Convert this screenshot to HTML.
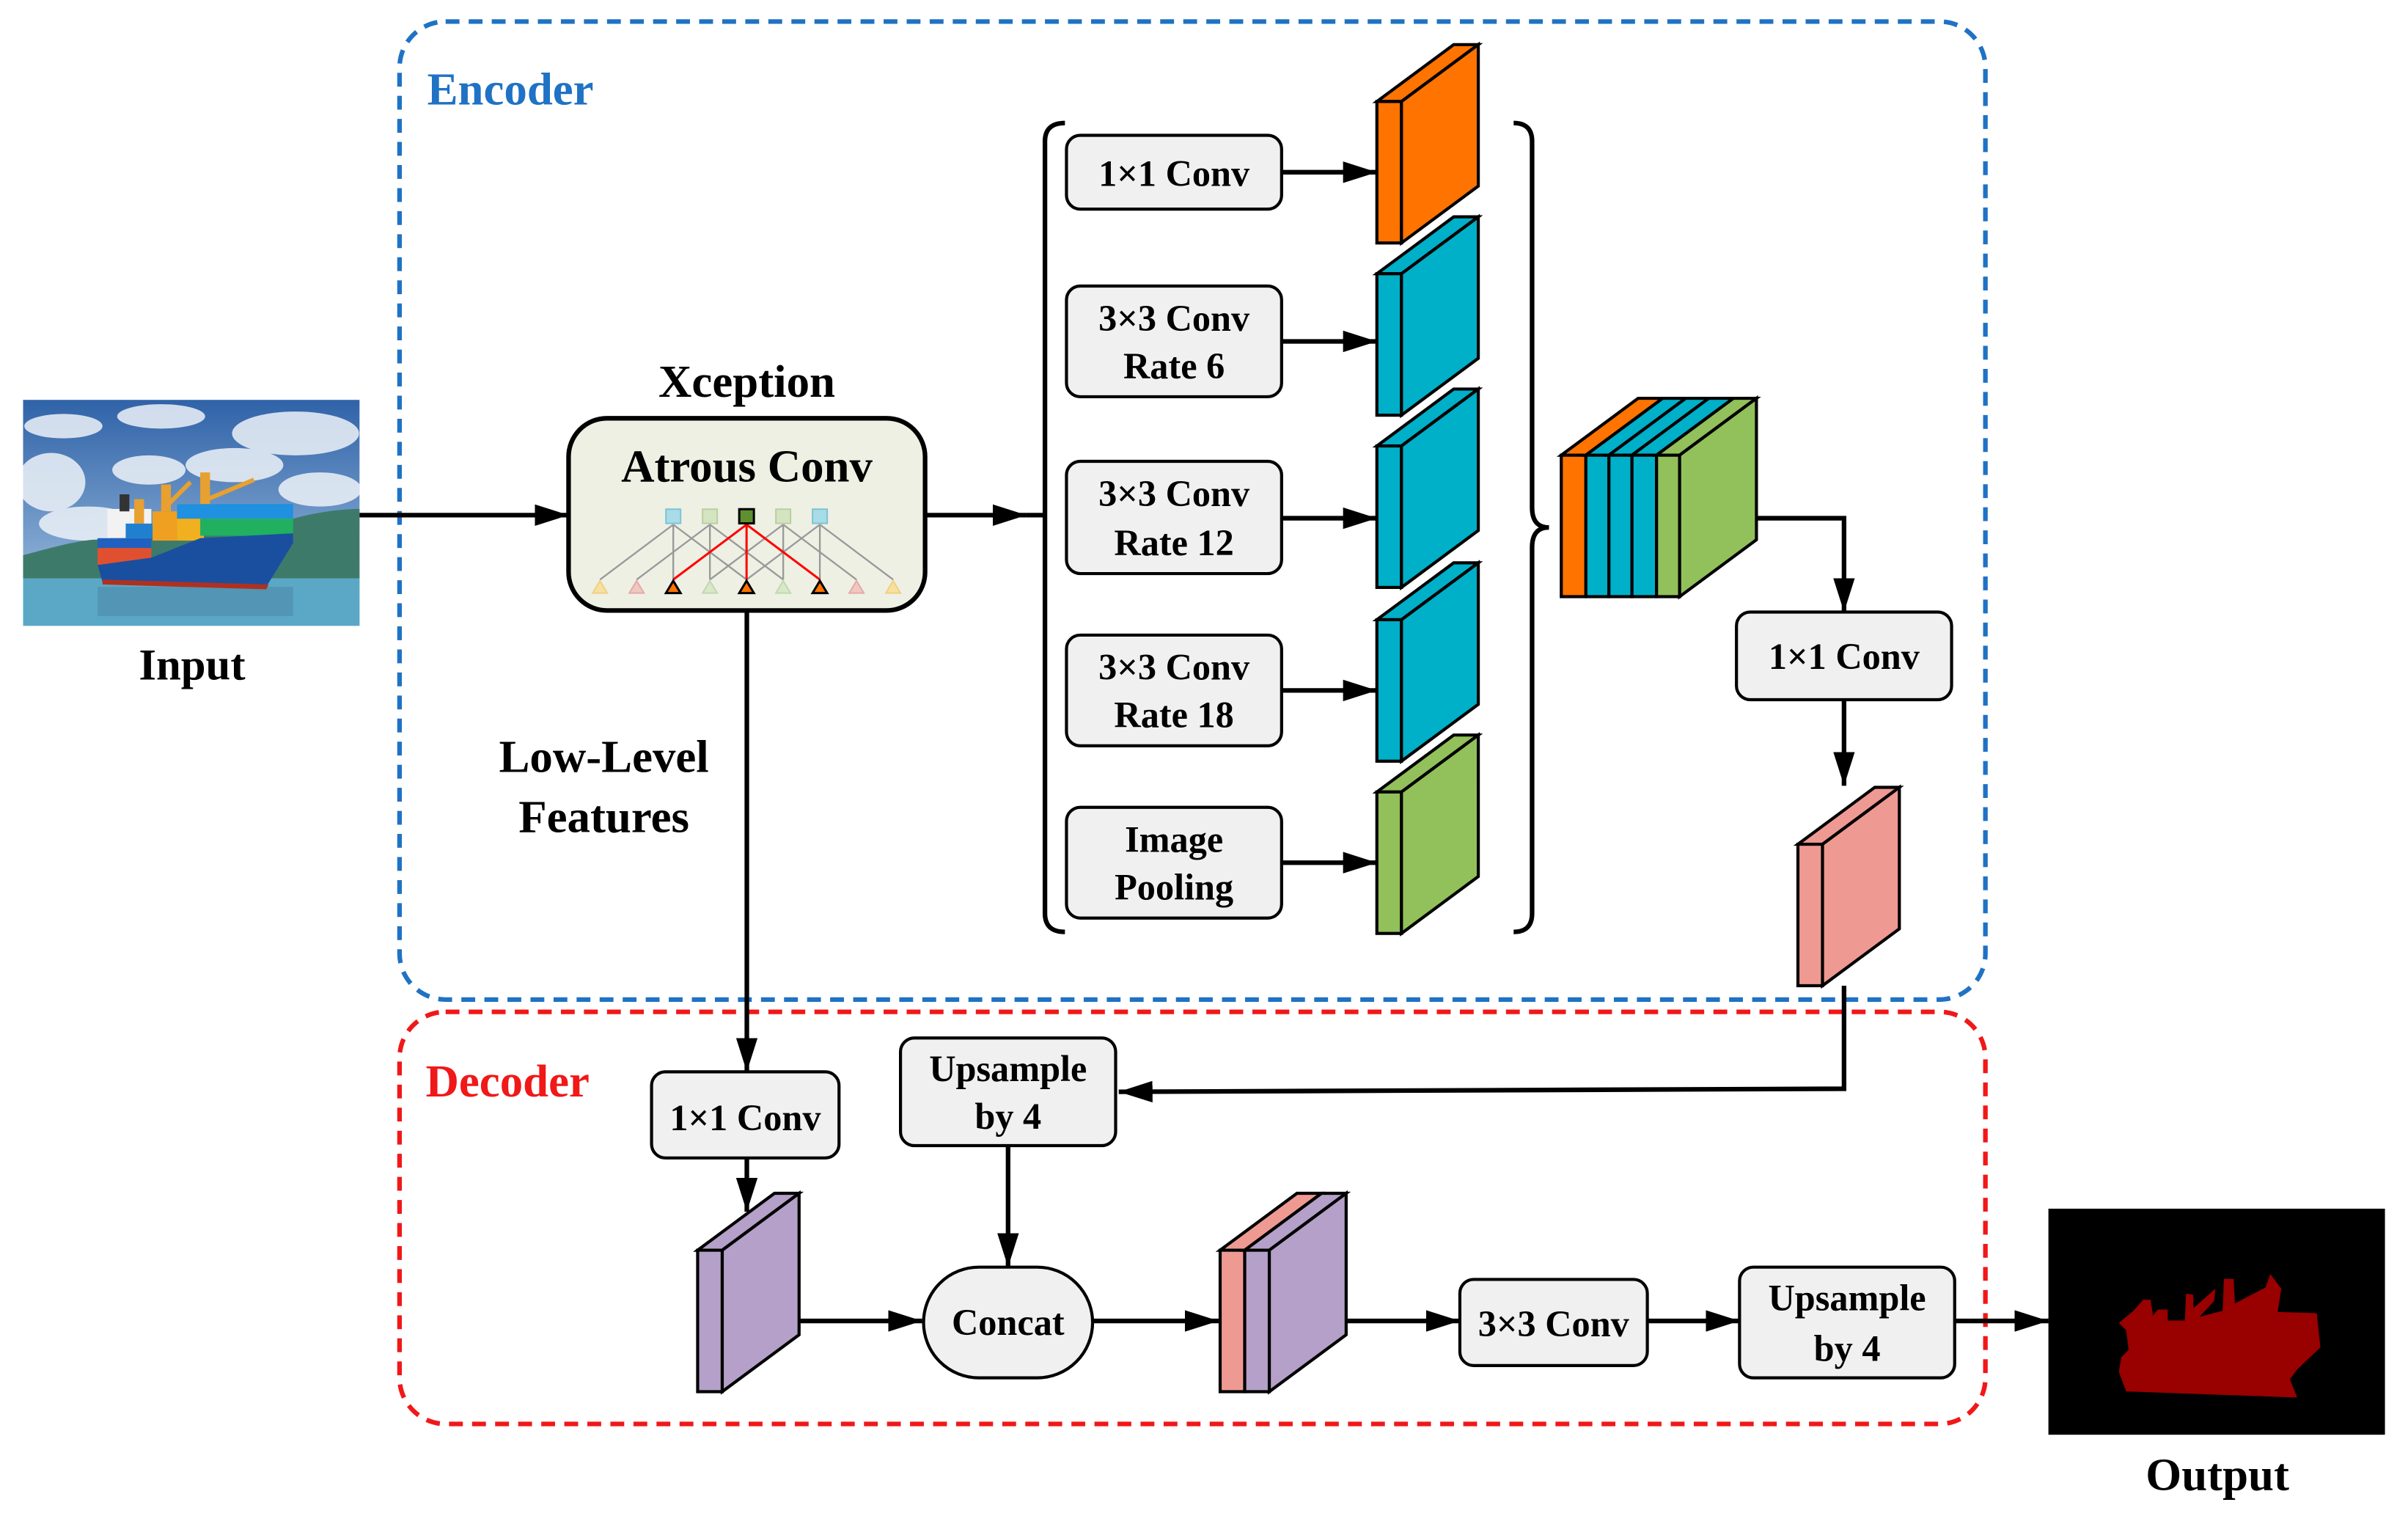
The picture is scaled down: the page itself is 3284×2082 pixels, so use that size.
<!DOCTYPE html>
<html><head><meta charset="utf-8"><style>html,body{margin:0;padding:0;background:#fff}svg{display:block}text{font-family:"Liberation Serif","Times New Roman",serif;font-weight:bold}</style></head>
<body>
<svg width="3284" height="2082" viewBox="0 0 1567 993" preserveAspectRatio="none" xmlns="http://www.w3.org/2000/svg">
<defs>
<marker id="ah" viewBox="0 0 10 10" refX="10" refY="5" markerWidth="22" markerHeight="14" markerUnits="userSpaceOnUse" orient="auto" preserveAspectRatio="none"><path d="M0,0 L10,5 L0,10 z"/></marker>
<linearGradient id="sky" x1="0" y1="0" x2="0" y2="1"><stop offset="0" stop-color="#2f62a8"/><stop offset="1" stop-color="#a9c8e4"/></linearGradient>
</defs>
<g fill="none" stroke-width="3" stroke-dasharray="9,6">
<rect x="260" y="14" width="1032" height="636" rx="30" stroke="#1f72c4"/>
<rect x="260" y="658" width="1032" height="268" rx="30" stroke="#f01818"/>
</g>
<text x="278" y="68" font-size="30" fill="#1f72c4">Encoder</text>
<text x="277" y="713" font-size="30" fill="#f01818">Decoder</text>

<svg x="15" y="260" width="219" height="147" viewBox="35 12 1377 928" preserveAspectRatio="none">
<rect x="35" y="12" width="1377" height="928" fill="url(#sky)"/>
<g fill="#eef3f8" opacity="0.85">
<ellipse cx="200" cy="120" rx="160" ry="50"/><ellipse cx="600" cy="80" rx="180" ry="50"/><ellipse cx="1150" cy="150" rx="260" ry="90"/>
<ellipse cx="550" cy="300" rx="150" ry="60"/><ellipse cx="900" cy="280" rx="200" ry="70"/><ellipse cx="150" cy="350" rx="140" ry="120"/>
<ellipse cx="1250" cy="380" rx="170" ry="70"/><ellipse cx="300" cy="520" rx="200" ry="70"/></g>
<path d="M35,650 C150,620 250,590 340,585 L1140,500 C1250,470 1350,460 1412,460 L1412,745 L35,745 z" fill="#3e7a6a"/>
<rect x="35" y="745" width="1377" height="195" fill="#5aa8c6"/>
<rect x="340" y="780" width="800" height="120" fill="#4c88a8" opacity="0.6"/>
<rect x="380" y="460" width="180" height="120" fill="#f2f2f2"/>
<rect x="430" y="400" width="40" height="70" fill="#333"/>
<rect x="490" y="420" width="40" height="100" fill="#e8a030"/>
<rect x="600" y="360" width="40" height="110" fill="#e8a030"/><rect x="760" y="310" width="40" height="130" fill="#e8a030"/>
<path d="M620,450 L720,350 M790,420 L980,340" stroke="#e8a030" stroke-width="18"/>
<rect x="340" y="620" width="220" height="70" fill="#e05030"/>
<rect x="340" y="580" width="220" height="40" fill="#2060c0"/>
<rect x="455" y="520" width="110" height="60" fill="#2080d0"/>
<rect x="565" y="470" width="100" height="120" fill="#f0a020"/>
<rect x="665" y="440" width="110" height="150" fill="#f0b020"/>
<rect x="665" y="440" width="475" height="60" fill="#2090e0"/>
<rect x="760" y="500" width="380" height="70" fill="#20b060"/>
<path d="M340,690 L560,660 L760,580 L1140,560 L1140,600 L1030,780 L360,760 z" fill="#1a4fa0"/>
<path d="M360,750 L1040,770 L1030,790 L360,770 z" fill="#b03020"/>
</svg>
<text x="125" y="442" font-size="29" text-anchor="middle">Input</text>
<line x1="234" y1="335" x2="370" y2="335" stroke="#000" stroke-width="3" marker-end="url(#ah)"/>

<text x="486" y="258" font-size="30" text-anchor="middle">Xception</text>
<rect x="370" y="272" width="232" height="125" rx="25" fill="#eef0e4" stroke="#000" stroke-width="3"/>
<text x="486" y="313" font-size="30" text-anchor="middle">Atrous Conv</text>
<g transform="translate(362.6,267.2) scale(0.159)">
<g stroke="#999" stroke-width="7" fill="none">
<path d="M175,690 L475,465 M475,690 L475,465 M775,690 L475,465 M325,690 L625,465 M625,690 L625,465 M925,690 L625,465 M625,690 L925,465 M925,690 L925,465 M1225,690 L925,465 M775,690 L1075,465 M1075,690 L1075,465 M1375,690 L1075,465"/></g>
<g stroke="#f00" stroke-width="9"><path d="M475,690 L775,465 M775,690 L775,465 M1075,690 L775,465"/></g>
<g stroke-width="6">
<rect x="445" y="402" width="60" height="58" fill="#a8dce8" stroke="#7cc4d4"/>
<rect x="595" y="402" width="60" height="58" fill="#d4e4c0" stroke="#b8d0a0"/>
<rect x="745" y="402" width="60" height="58" fill="#5e9030" stroke="#000" stroke-width="9"/>
<rect x="895" y="402" width="60" height="58" fill="#d4e4c0" stroke="#b8d0a0"/>
<rect x="1045" y="402" width="60" height="58" fill="#a8dce8" stroke="#7cc4d4"/>
<path d="M145,745 L175,695 L205,745z M1345,745 L1375,695 L1405,745z" fill="#f8e0a0" stroke="#f0d080"/>
<path d="M295,745 L325,695 L355,745z M1195,745 L1225,695 L1255,745z" fill="#f0c8c0" stroke="#e4aaa8"/>
<path d="M595,745 L625,695 L655,745z M895,745 L925,695 L955,745z" fill="#d8e8c8" stroke="#c0d8b0"/>
<path d="M445,745 L475,695 L505,745z M745,745 L775,695 L805,745z M1045,745 L1075,695 L1105,745z" fill="#ff7300" stroke="#000" stroke-width="9"/>
</g></g>
<line x1="602" y1="335" x2="668" y2="335" stroke="#000" stroke-width="3" marker-end="url(#ah)"/>
<path d="M693,80 Q680,80 680,92 L680,594 Q680,606 693,606" fill="none" stroke="#000" stroke-width="3"/>
<path d="M985,80 Q997,80 997,92 L997,330 Q997,343 1008,343 Q997,343 997,356 L997,594 Q997,606 985,606" fill="none" stroke="#000" stroke-width="3"/>
<path d="M668,335 L680,335" stroke="#000" stroke-width="3"/>

<g stroke="#000" stroke-width="2" fill="#f0f0f0">
<rect x="694" y="88" width="140" height="48" rx="9"/>
<rect x="694" y="186" width="140" height="72" rx="9"/>
<rect x="694" y="300" width="140" height="73" rx="9"/>
<rect x="694" y="413" width="140" height="72" rx="9"/>
<rect x="694" y="525" width="140" height="72" rx="9"/>
<rect x="1130" y="398" width="140" height="57" rx="9"/>
<rect x="586" y="675" width="140" height="70" rx="9"/>
<rect x="424" y="697" width="122" height="56" rx="9"/>
<rect x="950" y="832" width="122" height="56" rx="9"/>
<rect x="1132" y="824" width="140" height="72" rx="9"/>
<rect x="601" y="824" width="110" height="72" rx="36"/>
</g>
<g font-size="24" text-anchor="middle">
<text x="764" y="121">1×1 Conv</text>
<text x="764" y="215">3×3 Conv</text><text x="764" y="246">Rate 6</text>
<text x="764" y="329">3×3 Conv</text><text x="764" y="361">Rate 12</text>
<text x="764" y="442">3×3 Conv</text><text x="764" y="473">Rate 18</text>
<text x="764" y="554">Image</text><text x="764" y="585">Pooling</text>
<text x="1200" y="435">1×1 Conv</text>
<text x="656" y="703">Upsample</text><text x="656" y="734">by 4</text>
<text x="485" y="735">1×1 Conv</text>
<text x="1011" y="869">3×3 Conv</text>
<text x="1202" y="852">Upsample</text><text x="1202" y="885">by 4</text>
<text x="656" y="868">Concat</text>
</g>
<g stroke="#000" stroke-width="3" fill="none" marker-end="url(#ah)">
<path d="M834,112 L896,112"/><path d="M834,222 L896,222"/><path d="M834,337 L896,337"/><path d="M834,449 L896,449"/><path d="M834,561 L896,561"/>
<path d="M1143,337 L1200,337 L1200,398"/>
<path d="M1200,455 L1200,511"/>
<path d="M1200,641 L1200,708 L728,710"/>
<path d="M486,397 L486,697"/>
<path d="M486,753 L486,788"/>
<path d="M656,745 L656,824"/>
<path d="M519,859 L600,859"/>
<path d="M711,859 L793,859"/>
<path d="M875,859 L950,859"/>
<path d="M1072,859 L1132,859"/>
<path d="M1272,859 L1333,859"/>
</g>

<g stroke="#000" stroke-width="2">
<g fill="#ff7300"><path d="M896,66 L946,29 L962,29 L912,66z"/><rect x="896" y="66" width="16" height="92"/><path d="M912,66 L962,29 L962,121 L912,158z"/></g>
<g fill="#00afc8"><path d="M896,178 L946,141 L962,141 L912,178z"/><rect x="896" y="178" width="16" height="92"/><path d="M912,178 L962,141 L962,233 L912,270z"/></g>
<g fill="#00afc8"><path d="M896,290 L946,253 L962,253 L912,290z"/><rect x="896" y="290" width="16" height="92"/><path d="M912,290 L962,253 L962,345 L912,382z"/></g>
<g fill="#00afc8"><path d="M896,403 L946,366 L962,366 L912,403z"/><rect x="896" y="403" width="16" height="92"/><path d="M912,403 L962,366 L962,458 L912,495z"/></g>
<g fill="#92c05a"><path d="M896,515 L946,478 L962,478 L912,515z"/><rect x="896" y="515" width="16" height="92"/><path d="M912,515 L962,478 L962,570 L912,607z"/></g>
<path d="M1016,296 L1066,259 L1082,259 L1032,296z" fill="#ff7300"/><rect x="1016" y="296" width="16" height="92" fill="#ff7300"/>
<path d="M1032,296 L1082,259 L1097,259 L1047,296z" fill="#00afc8"/><rect x="1032" y="296" width="15" height="92" fill="#00afc8"/>
<path d="M1047,296 L1097,259 L1112,259 L1062,296z" fill="#00afc8"/><rect x="1047" y="296" width="15" height="92" fill="#00afc8"/>
<path d="M1062,296 L1112,259 L1128,259 L1078,296z" fill="#00afc8"/><rect x="1062" y="296" width="16" height="92" fill="#00afc8"/>
<path d="M1078,296 L1128,259 L1143,259 L1093,296z" fill="#92c05a"/><rect x="1078" y="296" width="15" height="92" fill="#92c05a"/>
<path d="M1093,296 L1143,259 L1143,351 L1093,388z" fill="#92c05a"/>
<g fill="#ee9a92"><path d="M1170,549 L1220,512 L1236,512 L1186,549z"/><rect x="1170" y="549" width="16" height="92"/><path d="M1186,549 L1236,512 L1236,604 L1186,641z"/></g>
<g fill="#b4a0c8"><path d="M454,813 L504,776 L520,776 L470,813z"/><rect x="454" y="813" width="16" height="92"/><path d="M470,813 L520,776 L520,868 L470,905z"/></g>
<path d="M794,813 L844,776 L860,776 L810,813z" fill="#ee9a92"/><rect x="794" y="813" width="16" height="92" fill="#ee9a92"/>
<g fill="#b4a0c8"><path d="M810,813 L860,776 L876,776 L826,813z"/><rect x="810" y="813" width="16" height="92"/><path d="M826,813 L876,776 L876,868 L826,905z"/></g>
</g>

<text x="393" y="502" font-size="30" text-anchor="middle">Low-Level</text>
<text x="393" y="541" font-size="30" text-anchor="middle">Features</text>

<rect x="1333" y="786" width="219" height="147" fill="#000"/>
<g transform="translate(1335.9,782.4) scale(0.159)">
<path d="M270,490 L330,440 L370,395 L400,395 L410,460 L430,435 L470,435 L470,480 L540,480 L545,370 L575,375 L575,430 L665,350 L660,400 L600,465 L695,440 L700,310 L740,310 L745,410 L870,345 L890,290 L935,350 L920,445 L1080,450 L1095,590 L1000,680 L970,720 L1000,795 L300,770 L270,690 L280,630 L310,600 L300,520 z" fill="#990000"/></g>
<text x="1443" y="969" font-size="30" text-anchor="middle">Output</text>
</svg>
</body></html>
